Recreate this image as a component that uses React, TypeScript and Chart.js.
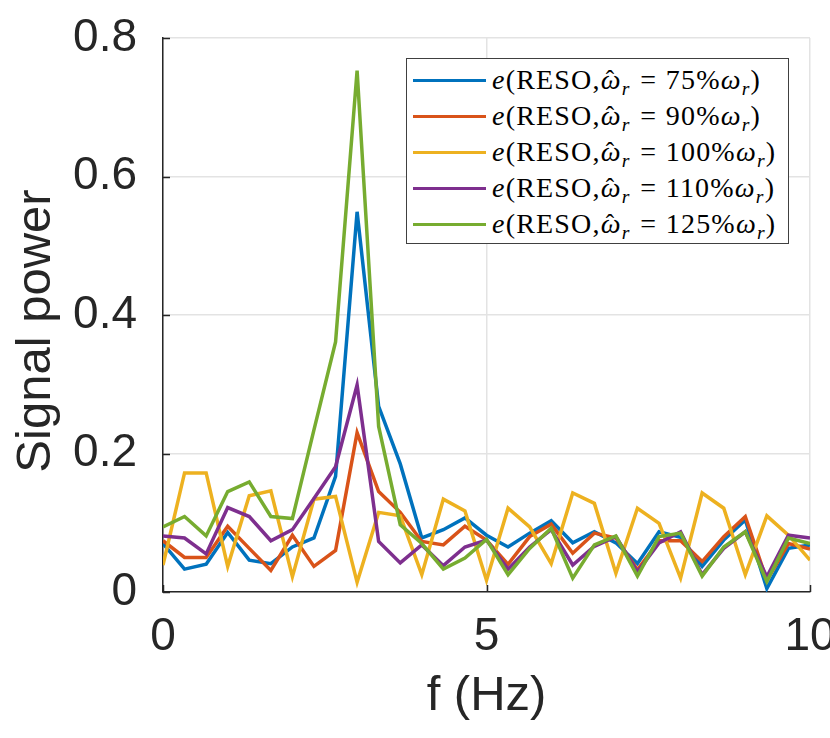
import React, { useEffect, useRef } from "react";
import { Chart, registerables } from "chart.js";

Chart.register(...registerables);

// Frequency bins (Hz)
const freqs = [0, 0.333, 0.667, 1, 1.333, 1.667, 2, 2.333, 2.667, 3, 3.333, 3.667, 4, 4.333, 4.667, 5, 5.333, 5.667, 6, 6.333, 6.667, 7, 7.333, 7.667, 8, 8.333, 8.667, 9, 9.333, 9.667, 10];

const reso75 = [0.070, 0.033, 0.040, 0.086, 0.046, 0.041, 0.065, 0.078, 0.167, 0.549, 0.268, 0.185, 0.078, 0.090, 0.107, 0.082, 0.065, 0.085, 0.103, 0.071, 0.087, 0.071, 0.041, 0.087, 0.079, 0.037, 0.075, 0.104, 0.005, 0.063, 0.068];
const reso90 = [0.074, 0.050, 0.050, 0.095, 0.063, 0.031, 0.082, 0.037, 0.060, 0.230, 0.145, 0.115, 0.073, 0.068, 0.095, 0.075, 0.040, 0.080, 0.098, 0.056, 0.085, 0.078, 0.032, 0.074, 0.074, 0.044, 0.080, 0.109, 0.017, 0.070, 0.062];
const reso100 = [0.039, 0.172, 0.172, 0.037, 0.139, 0.146, 0.022, 0.134, 0.138, 0.014, 0.115, 0.110, 0.025, 0.134, 0.117, 0.017, 0.121, 0.094, 0.041, 0.143, 0.128, 0.027, 0.121, 0.099, 0.020, 0.143, 0.121, 0.025, 0.110, 0.082, 0.046];
const reso110 = [0.081, 0.078, 0.055, 0.122, 0.109, 0.074, 0.090, 0.135, 0.181, 0.299, 0.073, 0.042, 0.068, 0.038, 0.065, 0.075, 0.033, 0.065, 0.090, 0.039, 0.066, 0.080, 0.029, 0.071, 0.087, 0.025, 0.063, 0.087, 0.022, 0.082, 0.078];
const reso125 = [0.094, 0.109, 0.081, 0.145, 0.159, 0.109, 0.106, 0.234, 0.361, 0.753, 0.239, 0.097, 0.070, 0.033, 0.049, 0.076, 0.025, 0.063, 0.092, 0.020, 0.068, 0.081, 0.023, 0.080, 0.085, 0.023, 0.065, 0.087, 0.015, 0.078, 0.070];

const percents = ["75", "90", "100", "110", "125"];
const seriesValues = [reso75, reso90, reso100, reso110, reso125];
const colors = ["#0072BD", "#D95319", "#EDB120", "#7E2F8E", "#77AC30"];

const xTicks = [0, 5, 10];
const yTicks = [0, 0.2, 0.4, 0.6, 0.8];

const xTitle = "f (Hz)";
const yTitle = "Signal power";

const SANS = "'Liberation Sans', Arial, Helvetica, sans-serif";
const SERIF = "'Liberation Serif', 'Times New Roman', serif";

const inwardTicks = {
  id: "inwardTicks",
  afterDraw(chart: any) {
    const { ctx, chartArea, scales } = chart;
    ctx.save();
    ctx.strokeStyle = "#262626";
    ctx.lineWidth = 1.5;
    ctx.beginPath();
    scales.y.ticks.forEach((t: any) => {
      const y = Math.round(scales.y.getPixelForValue(t.value)) + 0.5;
      ctx.moveTo(chartArea.left, y);
      ctx.lineTo(chartArea.left + 7, y);
    });
    scales.x.ticks.forEach((t: any) => {
      const x = Math.round(scales.x.getPixelForValue(t.value)) + 0.5;
      ctx.moveTo(x, chartArea.bottom);
      ctx.lineTo(x, chartArea.bottom - 7);
    });
    ctx.stroke();
    // y-axis title
    ctx.fillStyle = "#262626";
    ctx.font = `49px ${SANS}`;
    ctx.textAlign = "center";
    ctx.textBaseline = "middle";
    ctx.translate(36, (chartArea.top + chartArea.bottom) / 2 + 16);
    ctx.rotate(-Math.PI / 2);
    ctx.fillText(yTitle, 0, 0);
    ctx.restore();
  },
};

function Hat({ children }: { children: React.ReactNode }) {
  return (
    <span style={{ position: "relative", display: "inline-block" }}>
      <i>{children}</i>
      <span
        style={{
          position: "absolute",
          left: "0.2em",
          top: "0.06em",
          fontStyle: "normal",
          fontSize: "0.9em",
        }}
      >
        {"\u02C6"}
      </span>
    </span>
  );
}

function LegendLabel({ pct }: { pct: string }) {
  const sub: React.CSSProperties = { fontSize: "0.7em", verticalAlign: "-0.3em", lineHeight: 0, fontStyle: "italic" };
  return (
    <span style={{ fontFamily: SERIF, fontSize: 28, letterSpacing: 1.2, whiteSpace: "nowrap", color: "#000" }}>
      <i>e</i>(RESO,<Hat>{"\u03C9"}</Hat>
      <span style={sub}>r</span>
      <span style={{ margin: "0 0.3em 0 0.35em" }}>=</span>
      {pct}%<i>{"\u03C9"}</i>
      <span style={sub}>r</span>)
    </span>
  );
}

export default function App() {
  const canvasRef = useRef<HTMLCanvasElement | null>(null);

  useEffect(() => {
    document.body.style.margin = "0";
    const canvas = canvasRef.current;
    if (!canvas) return;
    const chart = new Chart(canvas, {
      type: "line",
      data: {
        datasets: seriesValues.map((vals, i) => ({
          label: `e(RESO, ω̂r = ${percents[i]}%ωr)`,
          data: freqs.map((f, j) => ({ x: f, y: vals[j] })),
          borderColor: colors[i],
          backgroundColor: colors[i],
          borderWidth: 3.5,
          pointRadius: 0,
          tension: 0,
          fill: false,
          order: seriesValues.length - 1 - i,
        })),
      },
      options: {
        animation: false,
        responsive: false,
        maintainAspectRatio: false,
        devicePixelRatio: 1,
        layout: { padding: { left: 0, right: 20, top: 38, bottom: 0 } },
        plugins: {
          legend: { display: false },
          tooltip: { enabled: false },
        },
        scales: {
          x: {
            type: "linear",
            min: 0,
            max: 10,
            afterBuildTicks: (scale: any) => {
              scale.ticks = xTicks.map((v) => ({ value: v }));
            },
            afterFit: (scale: any) => {
              scale.height = 146;
              scale.paddingLeft = 0;
              scale.paddingRight = 0;
            },
            ticks: {
              color: "#262626",
              font: { family: SANS, size: 46 },
              padding: 18,
              maxRotation: 0,
              callback: (v: any) => String(v),
            },
            grid: { color: "#e3e3e3", lineWidth: 1.5, drawTicks: false },
            border: { color: "#262626", width: 1.5 },
            title: {
              display: true,
              text: xTitle,
              color: "#262626",
              font: { family: SANS, size: 49 },
              padding: { top: 0, bottom: 12 },
            },
          },
          y: {
            type: "linear",
            min: 0,
            max: 0.8,
            afterBuildTicks: (scale: any) => {
              scale.ticks = yTicks.map((v) => ({ value: v }));
            },
            afterFit: (scale: any) => {
              scale.width = 163;
              scale.paddingTop = 0;
              scale.paddingBottom = 0;
            },
            ticks: {
              color: "#262626",
              font: { family: SANS, size: 46 },
              padding: 26,
              callback: (v: any) => String(v),
            },
            grid: { color: "#e3e3e3", lineWidth: 1.5, drawTicks: false },
            border: { color: "#262626", width: 1.5 },
            title: { display: false, text: yTitle },
          },
        },
      },
      plugins: [inwardTicks],
    });
    return () => chart.destroy();
  }, []);

  const rowCenters = [79, 115, 151, 187, 223];

  return (
    <div style={{ position: "absolute", left: 0, top: 0, width: 830, height: 738, background: "#fff" }}>
      <canvas ref={canvasRef} width={830} height={738} style={{ width: 830, height: 738, display: "block" }} />
      <div
        style={{
          position: "absolute",
          left: 406,
          top: 58,
          width: 383,
          height: 186,
          border: "1.5px solid #404040",
          background: "#fff",
          boxSizing: "border-box",
        }}
      >
        {percents.map((p, i) => (
          <div
            key={p}
            style={{
              position: "absolute",
              left: 0,
              top: rowCenters[i] - 58 - 18,
              height: 36,
              display: "flex",
              alignItems: "center",
            }}
          >
            <div style={{ width: 73, height: 3, background: colors[i], marginLeft: 6, flex: "none" }} />
            <div style={{ marginLeft: 6 }}>
              <LegendLabel pct={p} />
            </div>
          </div>
        ))}
      </div>
    </div>
  );
}
